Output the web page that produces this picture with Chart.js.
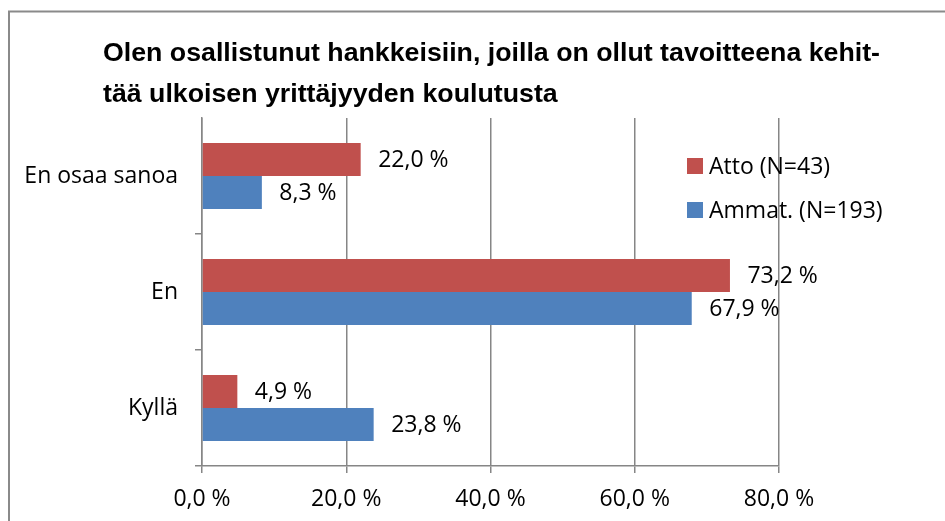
<!DOCTYPE html>
<html>
<head>
<meta charset="utf-8">
<script src="https://cdn.jsdelivr.net/npm/chart.js@4/dist/chart.umd.min.js"></script>
<style>
  html, body { margin: 0; padding: 0; background: #fff; }
  #wrap { width: 945px; height: 521px; position: relative; }
</style>
</head>
<body>
<div id="wrap"><canvas id="c" width="945" height="521"></canvas></div>
<script>
// Survey answers, percent of respondents per group
const titleLines = [
  'Olen osallistunut hankkeisiin, joilla on ollut tavoitteena kehit-',
  'tää ulkoisen yrittäjyyden koulutusta'
];
const categories = ['En osaa sanoa', 'En', 'Kyllä'];
const seriesNames = ['Atto (N=43)', 'Ammat. (N=193)'];
const attoValues = [22.0, 73.2, 4.9];
const ammatValues = [8.3, 67.9, 23.8];
const xTickMin = 0;
const xTickMax = 80;
const xTickStep = 20;

const RED = '#C0504D';
const BLUE = '#4F81BD';
const GRID = '#868686';
const FONT = '"Open Sans", "Noto Sans", sans-serif';

const pct = v => v.toFixed(1).replace('.', ',') + ' %';

const decorations = {
  id: 'decorations',
  beforeDraw(chart) {
    const ctx = chart.ctx;
    ctx.save();
    ctx.fillStyle = '#fff';
    ctx.fillRect(0, 0, chart.width, chart.height);
    // outer frame (top and left edges visible)
    ctx.strokeStyle = '#8a8a8a';
    ctx.lineWidth = 2;
    ctx.beginPath();
    ctx.moveTo(9, chart.height);
    ctx.lineTo(9, 11.5);
    ctx.lineTo(chart.width, 11.5);
    ctx.stroke();
    ctx.restore();
  },
  afterDatasetsDraw(chart) {
    const ctx = chart.ctx;
    ctx.save();
    ctx.font = '23px ' + FONT;
    ctx.fillStyle = '#000';
    ctx.textAlign = 'left';
    ctx.textBaseline = 'middle';
    chart.data.datasets.forEach((ds, di) => {
      const meta = chart.getDatasetMeta(di);
      meta.data.forEach((bar, i) => {
        ctx.fillText(pct(ds.data[i]), bar.x + 17.5, bar.y + 1);
      });
    });
    ctx.restore();
  },
  afterDraw(chart) {
    const ctx = chart.ctx;
    ctx.save();
    // title, condensed to its line width
    ctx.font = 'bold 26px "Liberation Sans", Arial, sans-serif';
    ctx.fillStyle = '#000';
    ctx.textBaseline = 'alphabetic';
    const w = ctx.measureText(titleLines[0]).width;
    const sx = 777 / w;
    const baselines = [61, 102];
    titleLines.forEach((line, i) => {
      ctx.save();
      ctx.translate(103, baselines[i]);
      ctx.scale(sx, 1);
      ctx.fillText(line, 0, 0);
      ctx.restore();
    });
    // legend inside the plot area
    ctx.font = '23px ' + FONT;
    ctx.textBaseline = 'middle';
    const legendY = [166, 210];
    chart.data.datasets.forEach((ds, i) => {
      ctx.fillStyle = ds.backgroundColor;
      ctx.fillRect(687, legendY[i] - 8, 16, 16);
      ctx.fillStyle = '#000';
      ctx.fillText(ds.label, 709, legendY[i] + 1);
    });
    ctx.restore();
  }
};

new Chart(document.getElementById('c'), {
  type: 'bar',
  data: {
    labels: categories,
    datasets: [
      { label: seriesNames[0], data: attoValues, backgroundColor: RED,
        categoryPercentage: 0.57, barPercentage: 1.0 },
      { label: seriesNames[1], data: ammatValues, backgroundColor: BLUE,
        categoryPercentage: 0.57, barPercentage: 1.0 }
    ]
  },
  options: {
    indexAxis: 'y',
    responsive: false,
    animation: false,
    layout: { padding: { top: 118, right: 166, left: 0, bottom: 0 } },
    plugins: {
      legend: { display: false },
      title: { display: false },
      tooltip: { enabled: false }
    },
    scales: {
      x: {
        min: xTickMin,
        max: xTickMax,
        ticks: {
          stepSize: xTickStep,
          callback: v => pct(v),
          color: '#000',
          font: { family: FONT, size: 23 },
          padding: 13
        },
        grid: { color: GRID, lineWidth: 1.5, tickLength: 7, drawTicks: true },
        border: { color: GRID, width: 1.5 },
        afterFit: s => { s.height = 55; }
      },
      y: {
        ticks: {
          color: '#000',
          font: { family: FONT, size: 23 },
          padding: 17
        },
        grid: {
          drawOnChartArea: false,
          offset: true,
          tickLength: 7,
          lineWidth: 1.5,
          color: c => (c.index === 0 ? 'rgba(0,0,0,0)' : GRID)
        },
        border: { color: GRID, width: 1.5 },
        afterFit: s => { s.width = 202; }
      }
    }
  },
  plugins: [decorations]
});
</script>
</body>
</html>
